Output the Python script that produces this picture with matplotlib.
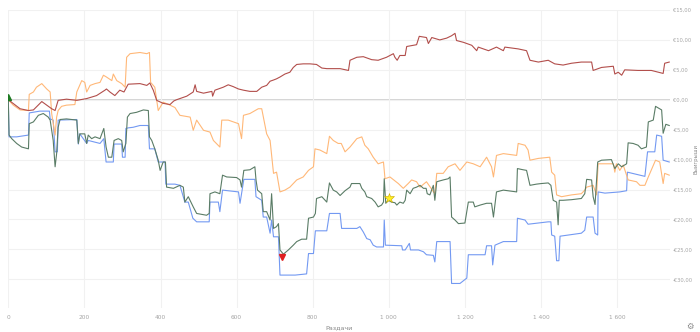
import matplotlib.pyplot as plt
from matplotlib.ticker import FuncFormatter

# cumulative winnings per hand, (hand, euros) waypoints
red_hands = [0, 31, 53, 66, 88, 101, 114, 123, 131, 153, 180, 206, 232, 254, 258, 267, 280, 293, 304,
             315, 346, 364, 372, 381, 390, 407, 425, 435, 442, 469, 486, 491, 495, 513, 535, 537, 543,
             565, 578, 591, 605, 618, 635, 653, 666, 679, 688, 697, 705, 714, 727, 740, 749, 758, 775,
             793, 810, 824, 837, 863, 872, 894, 898, 916, 933, 955, 972, 994, 1012, 1016, 1022, 1029,
             1043, 1047, 1073, 1080, 1099, 1104, 1113, 1134, 1152, 1165, 1174, 1178, 1196, 1218, 1231,
             1235, 1262, 1283, 1301, 1305, 1340, 1362, 1371, 1393, 1419, 1436, 1458, 1480, 1506, 1533,
             1537, 1559, 1590, 1594, 1603, 1612, 1620, 1655, 1690, 1721, 1725, 1737]
red_vals = [0, -1.5, -1.8, -1.7, -0.3, -0.9, -1.5, -1.8, -0.1, 0.1, -0.1, 0.2, 0.7, 1.6, 1.8, 1.3, 0.7,
            1.6, 1.3, 2.6, 2.7, 2.4, 2.8, 1.6, -0.1, -0.6, -0.8, -0.2, 0, 0.6, 1.3, 2.5, 1.4, 1.1, 1.4,
            0.6, 1.6, 2.1, 2.5, 2.2, 1.8, 1.6, 1.4, 1.4, 2.1, 2.4, 3.1, 3.3, 3.5, 3.8, 4.3, 4.6, 5.4,
            5.9, 6.0, 6.0, 5.9, 5.3, 5.2, 5.2, 5.2, 4.9, 6.6, 7.1, 7.2, 6.7, 6.6, 7.1, 7.7, 7.1, 6.6,
            7.4, 7.4, 8.9, 9.2, 10.6, 10.4, 9.4, 10.4, 10.0, 10.3, 10.7, 11.1, 9.9, 9.6, 9.1, 8.2, 8.8,
            8.2, 8.8, 8.2, 8.8, 8.5, 8.2, 6.6, 6.3, 6.6, 6.0, 5.8, 6.1, 6.3, 6.3, 4.9, 5.4, 5.6, 4.3,
            4.6, 4.1, 5.0, 4.9, 4.9, 4.4, 6.1, 6.3]

orange_hands = [0, 13, 31, 53, 55, 66, 74, 88, 101, 110, 114, 123, 127, 131, 140, 153, 175, 180, 193,
                201, 206, 215, 228, 241, 250, 258, 272, 276, 285, 298, 307, 311, 320, 346, 364, 371,
                374, 385, 390, 394, 407, 425, 438, 451, 478, 486, 495, 513, 530, 539, 556, 561, 578,
                605, 613, 618, 635, 657, 666, 679, 688, 697, 705, 714, 727, 740, 758, 775, 789, 802,
                806, 819, 837, 844, 854, 867, 875, 885, 898, 916, 929, 937, 946, 959, 972, 986, 990,
                1003, 1025, 1038, 1051, 1060, 1073, 1082, 1099, 1121, 1126, 1143, 1156, 1174, 1187,
                1205, 1222, 1240, 1257, 1270, 1275, 1283, 1301, 1336, 1340, 1358, 1366, 1371, 1393,
                1423, 1428, 1436, 1441, 1454, 1480, 1506, 1515, 1520, 1537, 1546, 1550, 1568, 1590,
                1594, 1598, 1607, 1616, 1629, 1651, 1660, 1673, 1682, 1701, 1712, 1721, 1725, 1737]
orange_vals = [0, -0.9, -1.7, -1.8, 0.9, 1.3, 2.1, 2.7, 1.8, 1.3, -2.3, -5.9, -2.9, -1.8, -1.1, -0.9,
               -0.8, 1.3, 3.2, 2.9, 1.3, 2.4, 2.7, 2.9, 4.1, 3.8, 3.2, 4.3, 3.2, 2.7, 2.1, 7.1, 7.7,
               7.9, 7.7, 7.9, 2.9, 2.1, -0.1, -1.8, -0.4, -0.9, -1.3, -2.6, -2.9, -5.1, -3.4, -5.1,
               -5.4, -6.8, -7.9, -3.4, -3.4, -4.0, -6.5, -2.6, -2.3, -1.5, -1.5, -5.7, -6.8, -12.3,
               -12.1, -15.4, -15.1, -14.6, -13.4, -12.9, -11.8, -11.2, -8.2, -8.4, -9.0, -6.1, -6.8,
               -7.3, -7.3, -8.7, -7.9, -6.5, -6.2, -7.6, -8.2, -9.6, -10.7, -10.4, -13.2, -12.9,
               -14.0, -14.8, -14.0, -13.4, -13.7, -14.6, -13.7, -15.7, -12.3, -12.3, -11.2, -10.7,
               -11.8, -10.4, -10.7, -11.2, -9.6, -11.2, -12.9, -9.3, -9.0, -9.3, -7.3, -7.6, -8.4,
               -10.1, -9.8, -9.6, -12.1, -12.6, -15.9, -16.2, -15.9, -15.7, -15.1, -14.6, -14.3,
               -15.9, -10.7, -10.7, -10.7, -12.1, -10.7, -11.8, -10.9, -13.4, -13.7, -14.3, -14.3,
               -12.9, -10.1, -10.4, -14.0, -12.3, -12.6]

green_hands = [0, 2, 9, 22, 35, 53, 55, 66, 79, 92, 105, 110, 114, 118, 123, 127, 131, 136, 153, 180,
               184, 188, 201, 206, 210, 219, 228, 241, 251, 257, 263, 272, 278, 289, 298, 302, 309,
               313, 320, 337, 355, 368, 371, 377, 385, 394, 399, 407, 413, 416, 434, 451, 460, 464,
               473, 486, 495, 521, 528, 530, 543, 556, 563, 574, 600, 609, 613, 619, 635, 648, 651,
               655, 666, 670, 679, 688, 692, 697, 705, 710, 714, 723, 736, 749, 758, 771, 784, 789,
               802, 807, 810, 824, 837, 844, 854, 863, 872, 885, 898, 902, 924, 929, 937, 942, 955,
               964, 972, 981, 986, 988, 992, 999, 1007, 1016, 1021, 1029, 1038, 1043, 1047, 1056,
               1064, 1073, 1082, 1091, 1098, 1101, 1108, 1117, 1121, 1126, 1143, 1156, 1161, 1165,
               1174, 1183, 1200, 1209, 1222, 1226, 1240, 1257, 1270, 1275, 1283, 1301, 1336, 1338,
               1353, 1362, 1371, 1388, 1401, 1419, 1426, 1432, 1441, 1445, 1448, 1458, 1480, 1506,
               1515, 1520, 1533, 1537, 1542, 1549, 1559, 1585, 1594, 1603, 1612, 1625, 1629, 1642,
               1655, 1664, 1677, 1682, 1695, 1701, 1717, 1721, 1728, 1737]
green_vals = [0, -5.9, -6.5, -7.3, -7.9, -8.2, -4.0, -3.7, -2.6, -2.3, -2.9, -3.4, -5.1, -6.8, -11.2,
              -9.0, -4.6, -3.3, -3.2, -3.4, -7.3, -5.7, -5.7, -7.3, -5.9, -6.5, -6.2, -6.5, -4.8,
              -7.9, -9.6, -9.6, -6.8, -6.5, -6.8, -8.7, -7.3, -2.9, -2.3, -2.1, -1.7, -1.8, -6.2,
              -6.8, -8.2, -10.1, -11.8, -10.4, -10.4, -14.6, -14.8, -14.3, -14.6, -17.1, -16.2,
              -17.9, -19.0, -19.3, -19.0, -15.7, -15.4, -15.7, -12.6, -12.9, -13.0, -13.4, -14.6,
              -11.8, -11.7, -11.2, -13.4, -15.1, -15.7, -18.7, -18.7, -20.1, -15.7, -21.5, -21.2,
              -20.7, -25.1, -25.8, -25.1, -24.3, -23.7, -23.3, -23.3, -19.8, -19.6, -19.0, -16.5,
              -16.2, -17.1, -13.9, -15.1, -15.4, -16.0, -15.2, -14.6, -14.0, -14.0, -14.8, -15.4,
              -16.2, -16.5, -17.1, -17.9, -17.6, -17.1, -13.2, -17.3, -16.8, -17.1, -17.2, -17.6,
              -17.1, -17.3, -16.8, -15.1, -15.7, -14.8, -14.6, -14.3, -14.8, -14.8, -15.7, -15.9,
              -14.3, -16.8, -13.7, -13.4, -13.2, -12.9, -19.6, -20.1, -20.7, -20.6, -17.1, -17.1,
              -17.9, -17.6, -17.3, -17.3, -19.6, -15.4, -15.1, -15.4, -11.5, -11.7, -11.8, -14.3,
              -14.1, -14.0, -13.9, -14.3, -16.8, -17.1, -20.9, -16.8, -16.8, -16.7, -16.5, -15.7,
              -13.3, -13.4, -16.2, -17.5, -10.4, -10.1, -10.0, -11.5, -10.7, -11.2, -10.7, -7.2,
              -7.3, -7.6, -8.2, -7.9, -3.7, -3.4, -1.1, -1.7, -5.6, -4.1, -4.3]

blue_hands = [0, 2, 22, 53, 55, 83, 108, 110, 118, 123, 129, 131, 180, 184, 188, 206, 210, 228, 241,
              251, 257, 276, 278, 298, 300, 307, 309, 315, 328, 346, 368, 371, 385, 394, 412, 414,
              438, 451, 464, 473, 485, 495, 528, 530, 552, 556, 563, 605, 609, 619, 648, 651, 666,
              670, 679, 688, 692, 697, 710, 714, 754, 784, 789, 802, 807, 837, 844, 872, 876, 889,
              916, 924, 933, 942, 951, 959, 968, 986, 988, 991, 1034, 1036, 1043, 1054, 1057, 1078,
              1091, 1099, 1117, 1121, 1126, 1161, 1165, 1187, 1205, 1209, 1253, 1257, 1270, 1273,
              1279, 1301, 1336, 1338, 1358, 1366, 1419, 1426, 1428, 1436, 1441, 1447, 1450, 1506,
              1515, 1520, 1537, 1542, 1549, 1550, 1568, 1607, 1625, 1627, 1673, 1680, 1699, 1704,
              1717, 1721, 1737]
blue_vals = [0, -6.2, -6.2, -5.9, -2.2, -1.9, -1.9, -3.2, -3.4, -8.7, -8.7, -3.4, -3.3, -7.4, -5.7,
             -7.3, -6.8, -7.1, -7.3, -6.5, -10.4, -10.4, -7.4, -7.4, -9.6, -9.6, -4.8, -4.7, -4.6,
             -4.3, -4.3, -8.2, -8.2, -10.4, -10.4, -14.1, -14.1, -14.3, -17.1, -17.1, -19.8, -20.4,
             -20.4, -17.1, -17.1, -18.7, -15.1, -15.4, -17.3, -13.3, -13.3, -16.2, -16.8, -19.6,
             -19.6, -22.3, -20.1, -22.9, -22.9, -29.3, -29.3, -29.1, -25.7, -25.7, -21.9, -21.9,
             -19.0, -19.0, -21.5, -21.5, -21.5, -21.2, -22.1, -23.2, -23.4, -24.3, -24.6, -24.6,
             -20.1, -24.3, -24.4, -25.1, -25.1, -24.0, -25.1, -25.1, -25.4, -25.9, -26.0, -27.1,
             -23.7, -23.7, -30.7, -30.7, -29.8, -25.9, -25.9, -24.4, -24.4, -27.6, -24.3, -23.7,
             -23.7, -19.8, -20.1, -20.8, -20.4, -20.4, -22.6, -22.8, -26.9, -26.9, -22.8, -22.3,
             -21.8, -19.6, -19.6, -22.3, -22.6, -15.4, -15.6, -15.4, -15.2, -12.1, -12.8, -8.7,
             -8.7, -5.9, -6.1, -10.1, -10.4]

# event markers: session start, worst point, best hand
start_point = (0, 0.4)
low_point = (720, -26.3)
star_point = (1000, -16.4)

fig = plt.figure(figsize=(7.0, 3.32), dpi=100)
ax = fig.add_axes([8.3 / 700, 24 / 332, (670 - 8.3) / 700, 298 / 332])

ax.set_xlim(0, 1739)
ax.set_ylim(-34.8, 15)
ax.set_xticks(range(0, 1700, 200))
ax.set_yticks(range(-30, 16, 5))
ax.grid(True, color="#f1f1f1", lw=0.8)
ax.axhline(0, color="#c9c9c9", lw=1.1, zorder=1)

ax.plot(blue_hands, blue_vals, color="#7399f2", lw=0.8, zorder=2)
ax.plot(orange_hands, orange_vals, color="#ffb878", lw=0.8, zorder=3)
ax.plot(green_hands, green_vals, color="#5a7c66", lw=0.8, zorder=4)
ax.plot(red_hands, red_vals, color="#b24e4b", lw=0.8, zorder=5)

ax.plot(*start_point, marker="^", color="#1d7a22", ms=4.5, zorder=6)
ax.plot(*low_point, marker="v", color="#e02020", ms=5, zorder=6)
ax.plot(*star_point, marker="*", color="#ffee22", mec="#c8a800", mew=0.4, ms=7, zorder=6)

for s in ax.spines.values():
    s.set_visible(False)

ax.yaxis.tick_right()
ax.yaxis.set_label_position("right")


def euro(v, _):
    v = int(round(v))
    sign = "-" if v < 0 else ""
    return f"{sign}€{abs(v)},00"


ax.yaxis.set_major_formatter(FuncFormatter(euro))
ax.xaxis.set_major_formatter(FuncFormatter(lambda v, _: f"{int(v):,}".replace(",", " ")))
ax.tick_params(axis="x", length=0, labelsize=4.2, labelcolor="#a5a5a5", pad=5)
ax.tick_params(axis="y", length=0, labelsize=3.7, labelcolor="#a5a5a5", pad=2)
ax.set_xlabel("Раздачи", fontsize=4.6, color="#888888", labelpad=4)
ax.set_ylabel("Выигрыши", fontsize=3.8, color="#888888", va="center")
ax.yaxis.set_label_coords(1.0393, 0.5)
fig.text(690 / 700, 1 - 326 / 332, "⚙", fontsize=6, color="#888888", ha="center", va="center")

fig.savefig("out.png", dpi=100)
